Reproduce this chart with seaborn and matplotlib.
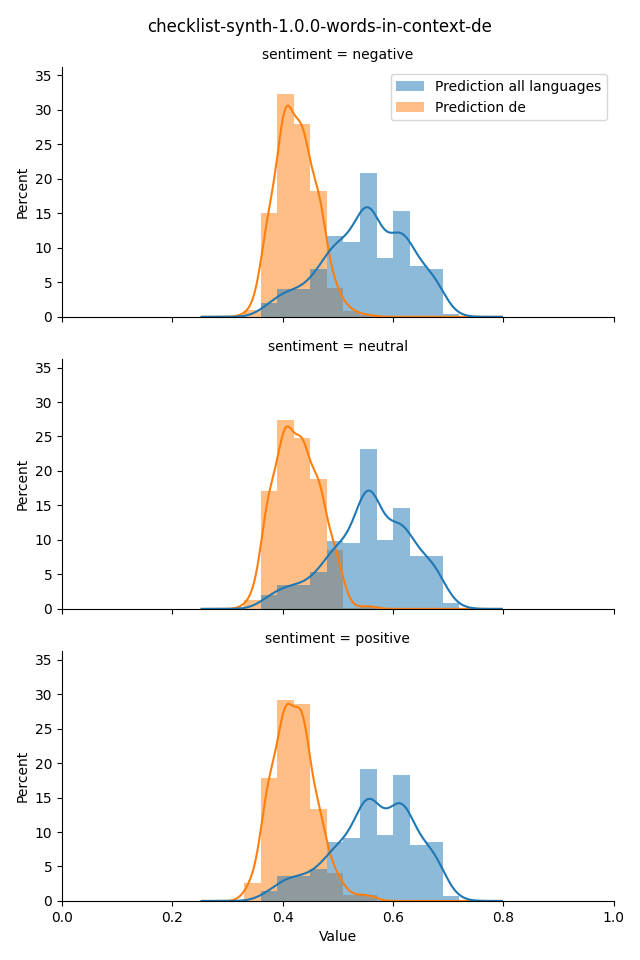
import numpy as np
import pandas as pd
import matplotlib
matplotlib.use("Agg")
import matplotlib.pyplot as plt
import seaborn as sns

# Bin edges (shared by both series)
bin_edges = [0.33, 0.36, 0.39, 0.42, 0.45, 0.48, 0.51, 0.54, 0.57, 0.60, 0.63, 0.66, 0.69, 0.72]
sentiments = ["negative", "neutral", "positive"]
series_names = ["Prediction all languages", "Prediction de"]

# Percent per bin
neg_all = [0, 2.0, 4.0, 4.0, 6.9, 11.7, 10.8, 20.9, 8.5, 15.3, 7.4, 7.0, 0.4]
neg_de = [1.0, 15.0, 32.3, 27.9, 18.2, 4.2, 0.9, 0.25, 0, 0, 0, 0, 0]
neu_all = [0, 2.0, 3.5, 3.5, 5.3, 9.9, 9.6, 23.2, 10.0, 14.7, 7.7, 7.7, 0.8]
neu_de = [1.35, 17.1, 27.4, 24.8, 18.9, 8.6, 0.2, 0.45, 0, 0, 0, 0, 0]
pos_all = [0, 1.4, 3.6, 3.6, 4.6, 8.5, 9.1, 19.2, 9.5, 18.3, 8.1, 8.5, 0.75]
pos_de = [2.65, 17.9, 29.2, 28.5, 13.3, 4.1, 0.9, 0.9, 0, 0, 0, 0, 0]

values = {
    ("negative", series_names[0]): neg_all,
    ("negative", series_names[1]): neg_de,
    ("neutral", series_names[0]): neu_all,
    ("neutral", series_names[1]): neu_de,
    ("positive", series_names[0]): pos_all,
    ("positive", series_names[1]): pos_de,
}

edges = np.array(bin_edges)
centers = (edges[:-1] + edges[1:]) / 2
rows = []
for (sent, ser), pct in values.items():
    for c, p in zip(centers, pct):
        rows.append({"sentiment": sent, "series": ser, "value": float(c), "pct": float(p)})
df = pd.DataFrame(rows)

colors = {series_names[0]: "C0", series_names[1]: "C1"}
kde_bw = {series_names[0]: 0.022, series_names[1]: 0.0152}  # smoothing bandwidth
kde_extent = 0.092  # KDE support beyond data range


def make_bw(h):
    def bw(kde):
        std = np.sqrt(np.cov(kde.dataset, aweights=kde.weights))
        return h / float(std)
    return bw


def draw(data, **kws):
    ax = plt.gca()
    # orange first, blue drawn on top
    for ser in reversed(series_names):
        sub = data[data["series"] == ser]
        h = kde_bw[ser]
        sns.histplot(data=sub, x="value", weights="pct", bins=list(bin_edges),
                     stat="count", kde=True,
                     kde_kws={"bw_method": make_bw(h), "cut": kde_extent / h},
                     color=colors[ser], alpha=0.5, linewidth=0, ax=ax)


g = sns.FacetGrid(df, row="sentiment", row_order=sentiments, height=3.2, aspect=2.0,
                  sharex=True, sharey=True)
g.map_dataframe(draw)
g.set_titles("{row_var} = {row_name}")
g.set_axis_labels("Value", "Percent")
g.set(xlim=(0, 1), ylim=(0, 36.2))

ax0 = g.axes.flat[0]
bars = ax0.containers  # [orange, blue]
ax0.legend(handles=[bars[1], bars[0]], labels=series_names, loc="upper right")

g.figure.suptitle("checklist-synth-1.0.0-words-in-context-de", fontsize=12, y=0.981)
g.figure.subplots_adjust(left=0.097, right=0.959, top=0.930, bottom=0.0615, hspace=0.17)
g.figure.savefig("out.png", dpi=100)
